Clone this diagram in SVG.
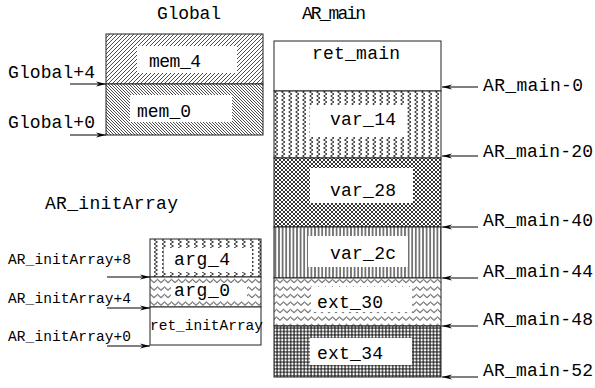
<svg xmlns="http://www.w3.org/2000/svg" width="595" height="388" viewBox="0 0 595 388">
<style>
text{font-family:"Liberation Mono","DejaVu Sans Mono",monospace;fill:#000}
.t{font-size:18px}
.s{font-size:14.5px}
.box{stroke:#222;stroke-width:1}
.w{fill:#fff;stroke:none}
.arr{stroke:#000;stroke-width:1;fill:none;marker-end:url(#ah)}
</style>
<defs>
<marker id="ah" viewBox="0 0 10 6" refX="10" refY="3" markerWidth="10" markerHeight="6" markerUnits="userSpaceOnUse" orient="auto">
<path d="M0,0.5 L10,3 L0,5.5 L3,3 Z" fill="#000"/>
</marker>
<pattern id="pNE" width="4" height="4" patternUnits="userSpaceOnUse">
<rect width="4" height="4" fill="#fff"/>
<path d="M-1,1 L1,-1 M0,4 L4,0 M3,5 L5,3" stroke="#000" stroke-width="0.7"/>
</pattern>
<pattern id="pNW" width="3" height="3" patternUnits="userSpaceOnUse">
<rect width="3" height="3" fill="#fff"/>
<path d="M-1,-1 L4,4 M-1,2 L1,4 M2,-1 L4,1" stroke="#000" stroke-width="0.7"/>
</pattern>
<pattern id="pVZ" width="7" height="8" patternUnits="userSpaceOnUse">
<rect width="7" height="8" fill="#fff"/>
<path d="M1.5,0 L5,2 L1.5,4 L5,6 L1.5,8" stroke="#000" stroke-width="0.8" fill="none"/>
</pattern>
<pattern id="pVZ2" width="8" height="8" patternUnits="userSpaceOnUse">
<rect width="8" height="8" fill="#fff"/>
<path d="M2,0 L5.5,2 L2,4 L5.5,6 L2,8" stroke="#000" stroke-width="0.8" fill="none"/>
</pattern>
<pattern id="pX" width="4" height="4" patternUnits="userSpaceOnUse">
<rect width="4" height="4" fill="#fff"/>
<path d="M0,0 L4,4 M0,4 L4,0" stroke="#000" stroke-width="0.8"/>
</pattern>
<pattern id="pV" width="3.6" height="4" patternUnits="userSpaceOnUse">
<rect width="3.6" height="4" fill="#fff"/>
<path d="M1.8,0 L1.8,4" stroke="#000" stroke-width="1"/>
</pattern>
<pattern id="pHZ" width="7" height="7.5" patternUnits="userSpaceOnUse">
<rect width="7" height="7.5" fill="#fff"/>
<path d="M0,5.2 L3.5,2 L7,5.2" stroke="#000" stroke-width="0.9" fill="none"/>
</pattern>
<pattern id="pG" width="3.4" height="3.4" patternUnits="userSpaceOnUse">
<rect width="3.4" height="3.4" fill="#fff"/>
<path d="M0,1.7 L3.4,1.7 M1.7,0 L1.7,3.4" stroke="#000" stroke-width="1"/>
</pattern>
</defs>

<text class="t" x="157" y="19" textLength="64">Global</text>
<text class="t" x="302" y="19" textLength="64">AR_main</text>
<text class="t" x="45" y="209" textLength="133">AR_initArray</text>

<g id="mem_4">
<rect class="box" x="106" y="34" width="157" height="50" fill="url(#pNE)"/>
<rect class="w" x="137" y="46" width="100" height="27"/>
<text class="t" x="149" y="67" textLength="52">mem_4</text>
</g>
<g id="mem_0">
<rect class="box" x="106" y="84" width="157" height="51" fill="url(#pNW)"/>
<rect class="w" x="130" y="95" width="102" height="27"/>
<text class="t" x="137" y="117" textLength="54">mem_0</text>
</g>
<g id="lbl_global">
<text class="t" x="8" y="78" textLength="87">Global+4</text>
<text class="t" x="8" y="128" textLength="87">Global+0</text>
</g>

<g id="ret_main">
<rect class="box" x="274" y="41" width="167" height="50" fill="#fff"/>
<text class="t" x="312" y="59" textLength="88">ret_main</text>
</g>
<g id="var_14">
<rect class="box" x="274" y="91" width="167" height="67" fill="url(#pVZ)"/>
<rect class="w" x="310" y="105" width="95" height="32"/>
<text class="t" x="330" y="125" textLength="66">var_14</text>
</g>
<g id="var_28">
<rect class="box" x="274" y="158" width="167" height="69" fill="url(#pX)"/>
<rect class="w" x="310" y="168" width="103" height="35"/>
<text class="t" x="330" y="196" textLength="66">var_28</text>
</g>
<g id="var_2c">
<rect class="box" x="274" y="227" width="167" height="51" fill="url(#pV)"/>
<rect class="w" x="308" y="236" width="100" height="31"/>
<text class="t" x="330" y="259" textLength="66">var_2c</text>
</g>
<g id="ext_30">
<rect class="box" x="274" y="278" width="167" height="48" fill="url(#pHZ)"/>
<rect class="w" x="311" y="287" width="101" height="25"/>
<text class="t" x="317" y="308" textLength="66">ext_30</text>
</g>
<g id="ext_34">
<rect class="box" x="274" y="326" width="167" height="51" fill="url(#pG)"/>
<rect class="w" x="310" y="338" width="102" height="27"/>
<text class="t" x="317" y="359" textLength="66">ext_34</text>
</g>
<g id="lbl_main">
<text class="t" x="483" y="91" textLength="100">AR_main-0</text>
<text class="t" x="483" y="157" textLength="110">AR_main-20</text>
<text class="t" x="483" y="226" textLength="110">AR_main-40</text>
<text class="t" x="483" y="277" textLength="110">AR_main-44</text>
<text class="t" x="483" y="325" textLength="110">AR_main-48</text>
<text class="t" x="483" y="376" textLength="110">AR_main-52</text>
</g>

<g id="arg_4">
<rect class="box" x="150" y="239" width="111" height="38" fill="url(#pVZ2)"/>
<rect class="w" x="164" y="248" width="88" height="24"/>
<text class="t" x="174" y="265" textLength="56">arg_4</text>
</g>
<g id="arg_0">
<rect class="box" x="150" y="277" width="111" height="30" fill="url(#pHZ)"/>
<rect class="w" x="171" y="283" width="76" height="17"/>
<text class="t" x="174" y="296" textLength="56">arg_0</text>
</g>
<g id="ret_initArray">
<rect class="box" x="150" y="307" width="111" height="38" fill="#fff"/>
<text class="s" x="150" y="330" textLength="113">ret_initArray</text>
</g>
<g id="lbl_init">
<text class="s" x="8" y="264" textLength="123">AR_initArray+8</text>
<text class="s" x="8" y="303" textLength="123">AR_initArray+4</text>
<text class="s" x="8" y="341" textLength="123">AR_initArray+0</text>
</g>

<g id="connectors">
<line class="arr" x1="70" y1="84" x2="106" y2="84"/>
<line class="arr" x1="70" y1="135" x2="106" y2="135"/>
<line class="arr" x1="478" y1="87" x2="442" y2="87"/>
<line class="arr" x1="478" y1="156" x2="442" y2="156"/>
<line class="arr" x1="478" y1="227" x2="442" y2="227"/>
<line class="arr" x1="478" y1="278" x2="442" y2="278"/>
<line class="arr" x1="478" y1="326" x2="442" y2="326"/>
<line class="arr" x1="478" y1="377" x2="442" y2="377"/>
<line class="arr" x1="107" y1="277" x2="150" y2="277"/>
<line class="arr" x1="107" y1="308" x2="150" y2="308"/>
<line class="arr" x1="107" y1="346" x2="150" y2="346"/>
</g>
</svg>
